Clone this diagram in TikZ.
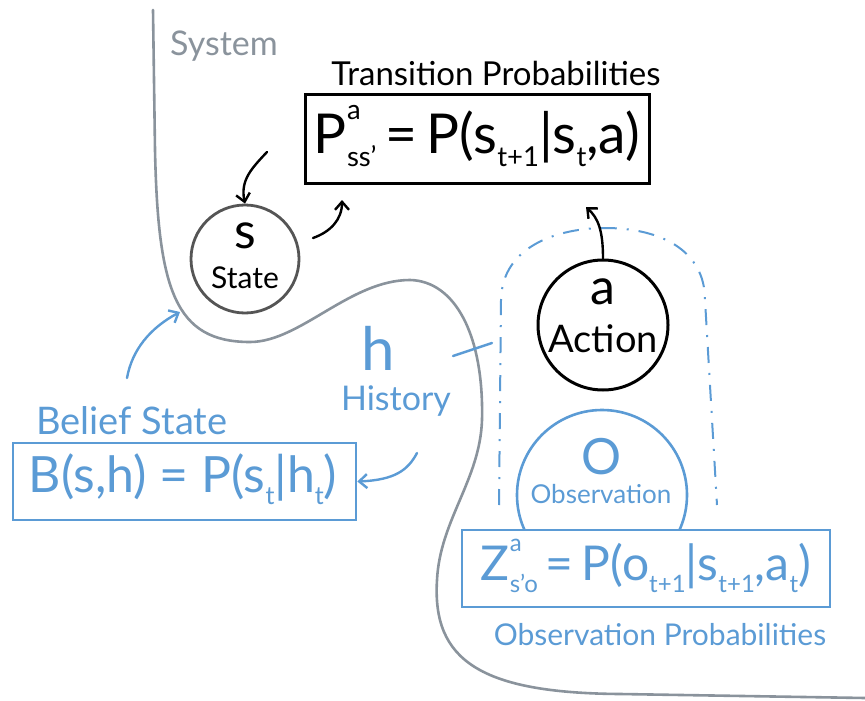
\documentclass[tikz,border=0pt]{standalone}
\usepackage{fontspec}
\setmainfont{Lato}
\usetikzlibrary{arrows.meta}
\definecolor{sysgray}{HTML}{8A939C}
\definecolor{stgray}{HTML}{555555}
\definecolor{hblue}{HTML}{5B9BD5}
\newcommand{\SupSub}[2]{\rlap{\raisebox{0.62em}{\scalebox{0.5}{#1}}}\raisebox{-0.25em}{\scalebox{0.5}{#2}}}
\newcommand{\Lo}[1]{\raisebox{-0.25em}{\scalebox{0.5}{#1}}}
\newcommand{\fs}[1]{\fontsize{#1}{#1}\selectfont}
\begin{document}
\begin{tikzpicture}[x=1pt,y=-1pt,
  sysline/.style={draw=sysgray,line width=2.6pt,line cap=round},
  blk/.style={draw=black,line width=3pt},
  blu/.style={draw=hblue,line width=2.6pt},
  arr/.style={-{Straight Barb[length=8pt,width=14pt]},line width=2.4pt,line cap=round},
  lbl/.style={inner sep=0pt,anchor=center}]
\useasboundingbox (0,0) rectangle (865,701);
% system boundary
\draw[sysline] (153,10) -- (155,150) .. controls (158,290) and (175,342) .. (250,342)
  .. controls (300,342) and (350,280) .. (410,280)
  .. controls (455,281) and (484,335) .. (482,420)
  .. controls (480,480) and (440,520) .. (437,580)
  .. controls (432,660) and (480,693) .. (620,694) -- (865,698);
\node[lbl,text=sysgray] (sys) at (224,46) {\fs{34}System};
% transition
\node[lbl] (tlab) at (496,73) {\fs{33}Transition Probabilities};
\node[blk,fill=white,minimum width=344pt,minimum height=89pt,inner sep=0pt] (tbox) at (477,139) {};
\node[lbl] (tform) at (477,136) {\fs{55}P\SupSub{a}{ss'}\,=\,P(s\Lo{t+1}|s\Lo{t},a)};
% state
\node[draw=stgray,line width=2.8pt,circle,minimum size=108pt,inner sep=0pt] (state) at (245,259) {};
\node[lbl] (sletter) at (245,236) {\fs{50}s};
\node[lbl] (stext) at (245,278) {\fs{30}State};
% action
\node[blk,circle,minimum size=130pt,inner sep=0pt] (action) at (603,325) {};
\node[lbl] (aletter) at (603,292) {\fs{50}a};
\node[lbl] (atext) at (603,339) {\fs{38}Action};
% enclosure
\draw[hblue,line width=2pt,dash pattern=on 16pt off 10pt on 2pt off 10pt]
  (499,505) -- (501,300) .. controls (502,245) and (560,228) .. (605,228)
  .. controls (660,228) and (705,250) .. (705,300) -- (717,505);
% observation
\node[blu,circle,minimum size=170pt,inner sep=0pt] (obs) at (602,495) {};
\node[lbl,text=hblue] (oletter) at (602,457) {\fs{50}O};
\node[lbl,text=hblue] (otext) at (601,494) {\fs{26}Observation};
\node[blu,fill=white,minimum width=368pt,minimum height=77pt,inner sep=0pt] (zbox) at (646,568.5) {};
\node[lbl,text=hblue] (zform) at (646,566) {\fs{48}Z\SupSub{a}{s'o}\,=\,P(o\Lo{t+1}|s\Lo{t+1},a\Lo{t})};
\node[lbl,text=hblue] (olab) at (660,635) {\fs{30}Observation Probabilities};
% history
\node[lbl,text=hblue] (hletter) at (378,348) {\fs{60}h};
\node[lbl,text=hblue] (htext) at (396,401) {\fs{34}History};
\coordinate (hstart) at (453,356);
\coordinate (hend) at (492,343);
\draw[hblue,line width=2.4pt,line cap=round] (hstart) -- (hend);
% belief
\node[lbl,text=hblue] (blab) at (132,421) {\fs{38}Belief State};
\node[blu,minimum width=343pt,minimum height=77pt,inner sep=0pt] (bbox) at (184.5,481.5) {};
\node[lbl,text=hblue] (bform) at (183,479) {\fs{50}B(s,h) = P(s\Lo{t}|h\Lo{t})};
% arrows
\coordinate (a1s) at (267,152);
\draw[arr] (a1s) .. controls (252,168) and (240,180) .. (state.north);
\coordinate (a2s) at (313,238);
\coordinate (a2e) at (342,200);
\draw[arr] (a2s) .. controls (330,232) and (342,220) .. (a2e);
\coordinate (a3e) at (586,207);
\draw[arr] (action.north) .. controls (603,230) and (598,218) .. (a3e);
\coordinate (a4s) at (127,378);
\coordinate (a4e) at (180,312);
\draw[arr,hblue] (a4s) .. controls (132,350) and (150,328) .. (a4e);
\coordinate (a5s) at (417,453);
\draw[arr,hblue] (a5s) .. controls (408,470) and (395,480) .. (bbox.east);
\end{tikzpicture}
\end{document}
